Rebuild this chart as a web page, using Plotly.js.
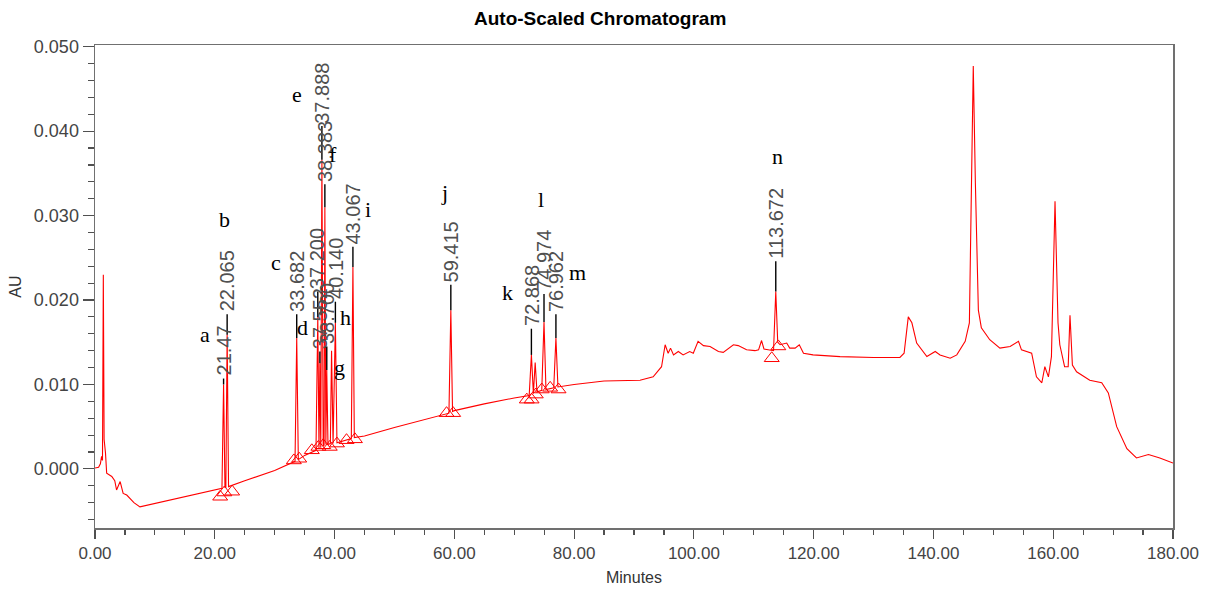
<!DOCTYPE html>
<html>
<head>
<meta charset="utf-8">
<script src="https://cdn.plot.ly/plotly-3.0.1.min.js"></script>
<style>
  html, body { margin: 0; padding: 0; background: #fff; }
  #chart { width: 1210px; height: 589px; }
</style>
</head>
<body>
<div id="chart"></div>
<script>
// ---- Chromatogram trace (minutes, AU) ----
const timeMin = [
  0.0, 0.6, 0.9, 1.1, 1.25, 1.39, 1.52, 1.75, 1.95, 2.8, 3.3, 3.6, 4.2, 4.7, 5.3, 6.5, 7.5,
  10.0, 15.0, 20.0, 21.2, 21.47, 21.7, 21.85, 22.065, 22.3, 25.0, 30.0,
  33.4, 33.682, 33.95, 35.0, 36.9, 37.2, 37.4, 37.55, 37.7, 37.888, 38.1, 38.25, 38.383, 38.55,
  38.7, 38.9, 39.3, 39.5, 39.75, 40.14, 40.4, 42.8, 43.067, 43.3, 45.0, 50.0, 55.0,
  59.1, 59.415, 59.7, 60.0, 65.0, 70.0, 72.5, 72.868, 73.2, 73.5, 73.8, 74.6, 74.974, 75.3,
  76.6, 76.962, 77.3, 80.0, 85.0, 91.0, 93.2, 94.6, 95.2, 95.7, 96.1, 96.6, 97.4, 98.2,
  99.3, 99.9, 100.7, 101.6, 102.7, 104.1, 104.9, 106.6, 107.4, 108.8, 110.2, 110.8, 111.3,
  111.7, 113.3, 113.672, 114.0, 114.4, 115.5, 116.0, 116.9, 117.6, 118.3, 119.9, 124.4,
  130.0, 134.4, 135.1, 135.8, 136.4, 137.2, 138.9, 140.3, 141.1, 142.8, 143.9, 145.3,
  146.0, 146.4, 146.65, 147.0, 147.5, 148.0, 149.4, 151.1, 152.8, 154.2, 154.7, 156.4,
  157.2, 158.1, 158.6, 159.2, 159.7, 160.3, 160.8, 161.1, 161.9, 162.5, 162.8, 163.2,
  163.9, 166.1, 168.1, 169.2, 170.6, 172.3, 173.9, 175.9, 177.8, 180.0
];
const absorbanceAU = [
  0.0001, 0.0002, 0.0006, 0.0015, 0.0010, 0.0230, 0.0035, 0.0019, -0.0005, -0.0009, -0.0014, -0.0025, -0.0015, -0.0029, -0.0031, -0.0040, -0.0045,
  -0.0041, -0.0033, -0.0025, -0.0023, 0.0100, -0.0022, -0.0022, 0.0159, -0.0021, -0.0014, -0.0002,
  0.0009, 0.0155, 0.0011, 0.0016, 0.0022, 0.0180, 0.0024, 0.0125, 0.0025, 0.0366, 0.0027, 0.0028, 0.0310, 0.0029,
  0.0117, 0.0029, 0.0030, 0.0140, 0.0030, 0.0173, 0.0031, 0.0036, 0.0239, 0.0037, 0.0039, 0.0049, 0.0058,
  0.0066, 0.0188, 0.0068, 0.0069, 0.0077, 0.0084, 0.0087, 0.0135, 0.0089, 0.0126, 0.0091, 0.0093, 0.0174, 0.0094,
  0.0096, 0.0155, 0.0097, 0.0100, 0.0104, 0.0105, 0.0109, 0.0121, 0.0147, 0.0137, 0.0143, 0.0135, 0.0139, 0.0135,
  0.0139, 0.0137, 0.0151, 0.0146, 0.0145, 0.0139, 0.0138, 0.0147, 0.0146, 0.0141, 0.0140, 0.0141, 0.0152,
  0.0142, 0.0140, 0.0210, 0.0150, 0.0147, 0.0149, 0.0143, 0.0143, 0.0147, 0.0137, 0.0135, 0.0133,
  0.0132, 0.0132, 0.0137, 0.0180, 0.0173, 0.0149, 0.0133, 0.0139, 0.0135, 0.0131, 0.0135, 0.0151,
  0.0173, 0.0339, 0.0477, 0.0339, 0.0188, 0.0167, 0.0153, 0.0143, 0.0145, 0.0151, 0.0141, 0.0137,
  0.0109, 0.0102, 0.0121, 0.0109, 0.0133, 0.0317, 0.0173, 0.0147, 0.0121, 0.0121, 0.0182, 0.0123,
  0.0115, 0.0105, 0.0102, 0.0090, 0.0050, 0.0024, 0.0013, 0.0017, 0.0013, 0.0007
];

// ---- Peak retention-time labels ----
const peakLabels   = ["21.47", "22.065", "33.682", "37.200", "37.552", "37.888", "38.383", "38.700", "40.140", "43.067", "59.415", "72.868", "74.974", "76.962", "113.672"];
const peakTimes    = [21.47, 22.065, 33.682, 37.2, 37.552, 37.888, 38.383, 38.7, 40.14, 43.067, 59.415, 72.868, 74.974, 76.962, 113.672];
const peakApexAU   = [0.0100, 0.0159, 0.0155, 0.0180, 0.0125, 0.0366, 0.0310, 0.0117, 0.0173, 0.0239, 0.0188, 0.0135, 0.0174, 0.0155, 0.0210];
const labelBaseAU  = [0.0109, 0.0185, 0.0185, 0.0212, 0.0141, 0.0408, 0.0339, 0.0147, 0.0200, 0.0265, 0.0220, 0.0168, 0.0209, 0.0185, 0.0248];

// ---- Hand-written peak letters ----
const letterText = ["a", "b", "c", "d", "e", "f", "g", "h", "i", "j", "k", "l", "m", "n"];
const letterTime = [18.4, 21.7, 30.2, 34.6, 33.7, 39.7, 40.9, 41.9, 45.6, 58.4, 68.8, 74.5, 80.6, 114.0];
const letterAU   = [0.0159, 0.0295, 0.0245, 0.0168, 0.0443, 0.0372, 0.0120, 0.0179, 0.0307, 0.0327, 0.0209, 0.0319, 0.0233, 0.0370];

// ---- Peak start / end markers (triangles) ----
const markerTime = [20.9, 21.6, 22.9, 33.2, 34.1, 36.2, 37.3, 38.1, 39.2, 40.4, 42.0, 43.4, 58.7, 59.8, 72.1, 72.9, 73.6, 74.6, 76.0, 77.4, 113.0, 114.1];
const markerAU   = [-0.0033, -0.0028, -0.0027, 0.0010, 0.0012, 0.0022, 0.0026, 0.0028, 0.0026, 0.0030, 0.0034, 0.0035, 0.0066, 0.0066, 0.0082, 0.0082, 0.0088, 0.0094, 0.0096, 0.0094, 0.0131, 0.0145];

// build label tick segments
const tickX = [], tickY = [];
for (let i = 0; i < peakTimes.length; i++) {
  tickX.push(peakTimes[i], peakTimes[i], null);
  tickY.push(peakApexAU[i], labelBaseAU[i] - 0.0002, null);
}

const traces = [
  { x: timeMin, y: absorbanceAU, type: 'scatter', mode: 'lines',
    line: { color: '#ff0000', width: 1.1 }, hoverinfo: 'skip', showlegend: false },
  { x: tickX, y: tickY, type: 'scatter', mode: 'lines',
    line: { color: '#000000', width: 1.4 }, hoverinfo: 'skip', showlegend: false },
  { x: markerTime, y: markerAU, type: 'scatter', mode: 'markers',
    marker: { symbol: 'triangle-up-open', size: 13, color: '#ff0000', line: { width: 1, color: '#ff0000' } },
    hoverinfo: 'skip', showlegend: false }
];

const annotations = [];
for (let i = 0; i < peakLabels.length; i++) {
  annotations.push({
    x: peakTimes[i], y: labelBaseAU[i], xref: 'x', yref: 'y',
    text: peakLabels[i], textangle: -90, showarrow: false,
    xanchor: 'center', yanchor: 'bottom', borderpad: 0,
    font: { family: 'Liberation Sans, Arial, sans-serif', size: 20, color: '#505050' }
  });
}
for (let i = 0; i < letterText.length; i++) {
  annotations.push({
    x: letterTime[i], y: letterAU[i], xref: 'x', yref: 'y',
    text: letterText[i], showarrow: false,
    xanchor: 'center', yanchor: 'middle',
    font: { family: 'Liberation Serif, Times New Roman, serif', size: 22, color: '#000000' }
  });
}

const axisCommon = {
  showline: true, mirror: true, linecolor: '#707070', linewidth: 1.5,
  showgrid: false, zeroline: false, ticks: 'outside', tickcolor: '#505050',
  tickfont: { family: 'Liberation Sans, Arial, sans-serif', size: 17, color: '#444444' }
};

const layout = {
  width: 1210, height: 589,
  margin: { l: 95, r: 37, t: 45, b: 61 },
  paper_bgcolor: '#ffffff', plot_bgcolor: '#ffffff',
  title: { text: '<b>Auto-Scaled Chromatogram</b>', x: 0.496, xanchor: 'center', y: 0.969, yanchor: 'middle',
           font: { family: 'Liberation Sans, Arial, sans-serif', size: 19, color: '#000000' } },
  xaxis: Object.assign({}, axisCommon, {
    range: [0, 180], dtick: 20, tick0: 0, tickformat: '.2f', ticklen: 9, tickwidth: 1.2,
    minor: { dtick: 5, ticks: 'outside', ticklen: 5, tickcolor: '#505050', tickwidth: 1.2 },
    title: { text: 'Minutes', standoff: 10, font: { family: 'Liberation Sans, Arial, sans-serif', size: 16, color: '#333333' } }
  }),
  yaxis: Object.assign({}, axisCommon, {
    range: [-0.0070, 0.0502], dtick: 0.01, tick0: 0, tickformat: '.3f', ticklen: 11, tickwidth: 1.2,
    tickfont: { family: 'Liberation Sans, Arial, sans-serif', size: 18, color: '#444444' },
    minor: { dtick: 0.002, ticks: 'outside', ticklen: 6, tickcolor: '#505050', tickwidth: 1.2 },
    title: { text: 'AU', standoff: 8, font: { family: 'Liberation Sans, Arial, sans-serif', size: 16, color: '#333333' } }
  }),
  annotations: annotations
};

Plotly.newPlot('chart', traces, layout, { staticPlot: true, displayModeBar: false });
</script>
</body>
</html>
